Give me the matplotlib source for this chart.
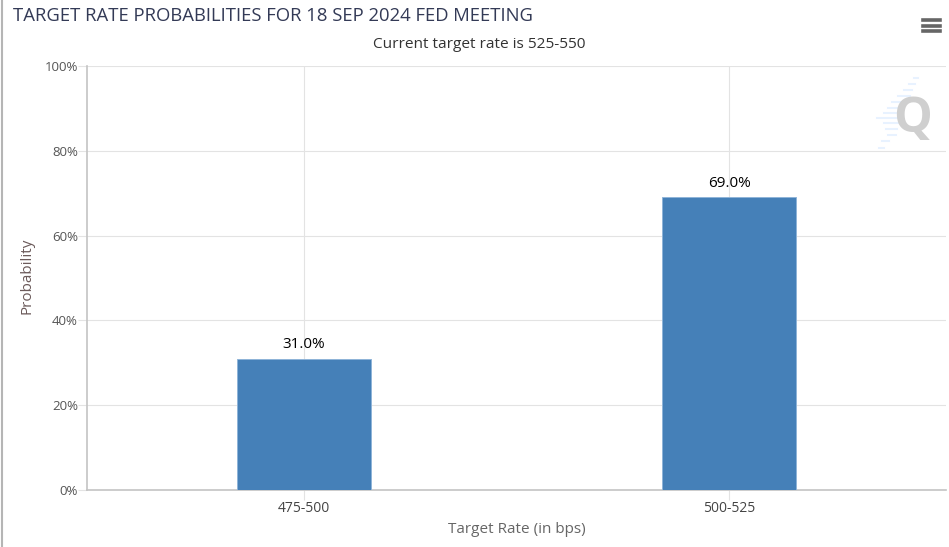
#Target rate probabilities for the Fed meeting: bar chart
import numpy as np
import matplotlib.pyplot as plt
from matplotlib.lines import Line2D

plt.rcParams['font.family']=['Open Sans','DejaVu Sans']

rates=['475-500','500-525']
probs=[31.0,69.0]
yticks=[0,20,40,60,80,100]

W=949.
H=547.

x=np.arange(len(rates))

fig=plt.figure(figsize=(9.49,5.47),dpi=100)
plt.axes([87/W,1-490/H,859/W,424/H])
plt.bar(x,probs,width=134/425.5,color='#4580b8',edgecolor='#8fb4d8',linewidth=0.7,zorder=3)

for i in range(0,len(probs)):
    plt.annotate('%.1f%%'%probs[i],(x[i],probs[i]),xytext=(0,4.5),textcoords='offset points',
                 ha='center',va='bottom',fontsize=11,color='black',zorder=4)

plt.xlim(-0.509,1.51)
plt.ylim(0,100)
plt.xticks(x,rates,fontsize=10,color='#444444')
plt.yticks(yticks,['%d%%'%t for t in yticks],fontsize=9.5,color='#555555')
plt.grid(color='#e3e3e3',linewidth=0.8,zorder=0)
plt.tick_params(axis='x',length=7,width=0.8,color='#e3e3e3',pad=1)
plt.tick_params(axis='y',length=6.5,width=0.8,color='#e3e3e3',pad=0)

ax=plt.gca()
ax.spines['top'].set_visible(False)
ax.spines['right'].set_visible(False)
ax.spines['left'].set_color('#c4c4c4')
ax.spines['bottom'].set_color('#c4c4c4')
ax.spines['left'].set_linewidth(1.2)
ax.spines['bottom'].set_linewidth(1.2)

plt.xlabel('Target Rate (in bps)',fontsize=11,color='#666666',labelpad=4)
plt.ylabel('Probability',fontsize=11,color='#6b5a5a',labelpad=7,y=0.505)

fig.text(13/W,1-16/H,'TARGET RATE PROBABILITIES FOR 18 SEP 2024 FED MEETING',
         fontsize=13.37,color='#333a56',ha='left',va='center')
fig.text(479/W,1-44/H,'Current target rate is 525-550',fontsize=11.1,color='#333333',ha='center',va='center')

# left border of the page
fig.add_artist(Line2D([2/W,2/W],[0,1],color='#b5b5b5',linewidth=1.5))

# menu icon
for yy in [20,26,31]:
    fig.add_artist(Line2D([923/W,940/W],[1-yy/H,1-yy/H],color='#666666',linewidth=2.6))

# logo
dashes=[(914,918,78),(909,915,84),(904,912,90),(898,910,96),(892,906,102),(888,904,108),(884,900,113),(877,897,118),
        (884,899,123),(886,897,129),(888,896,135),(882,889,141),(879,884,148)]
for d in dashes:
    fig.add_artist(Line2D([d[0]/W,d[1]/W],[1-d[2]/H,1-d[2]/H],color='#e8f2ff',linewidth=1.5))
fig.text(913/W,1-119/H,'Q',fontsize=35,fontweight='bold',color='#cfcfcf',ha='center',va='center')

plt.savefig('out.png',dpi=100)
